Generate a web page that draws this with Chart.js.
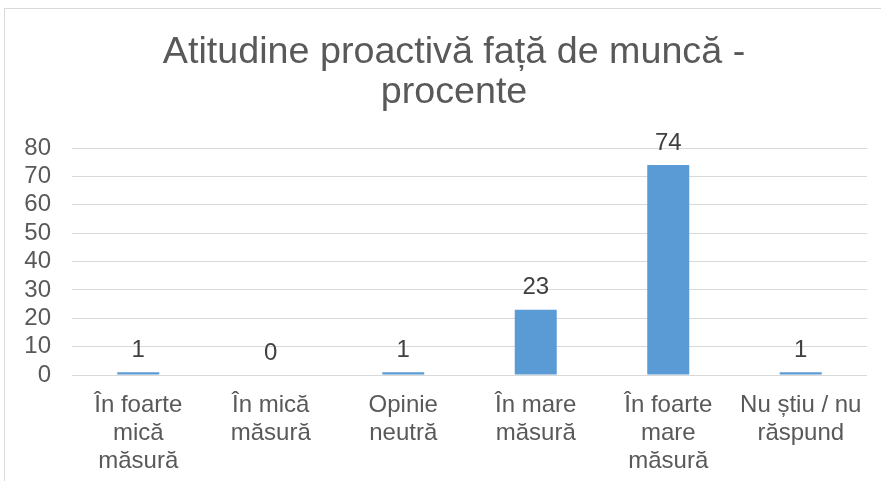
<!DOCTYPE html>
<html>
<head>
<meta charset="utf-8">
<script src="https://cdn.jsdelivr.net/npm/chart.js@4/dist/chart.umd.min.js"></script>
<style>
  html, body { margin: 0; padding: 0; background: #fff; }
  .wrap { position: relative; width: 881px; height: 481px; overflow: hidden; }
  .frame {
    position: absolute; left: 4px; top: 8px; right: -10px; bottom: -10px;
    border: 1px solid #d9d9d9;
  }
  canvas { position: absolute; left: 0; top: 0; }
</style>
</head>
<body>
<div class="wrap">
  <div class="frame"></div>
  <canvas id="proactiveChart" width="881" height="481"></canvas>
</div>
<script>
/* categories (multi-line labels) and percentages */
const categories = [
  ['În foarte', 'mică', 'măsură'],
  ['În mică', 'măsură'],
  ['Opinie', 'neutră'],
  ['În mare', 'măsură'],
  ['În foarte', 'mare', 'măsură'],
  ['Nu știu / nu', 'răspund']
];
const percentages = [1, 0, 1, 23, 74, 1];
const yTicks = [0, 10, 20, 30, 40, 50, 60, 70, 80];

const FONT = "'Liberation Sans', Arial, sans-serif";

// widest y label, so mirrored ticks can be right-aligned left of the plot
const mctx = document.createElement('canvas').getContext('2d');
mctx.font = '24px ' + FONT;
const yLabelWidth = Math.max(...yTicks.map(v => mctx.measureText(String(v)).width));

// value labels above each bar
const valueLabels = {
  id: 'valueLabels',
  afterDatasetsDraw(chart) {
    const ctx = chart.ctx;
    const meta = chart.getDatasetMeta(0);
    ctx.save();
    ctx.font = '24px ' + FONT;
    ctx.fillStyle = '#404040';
    ctx.textAlign = 'center';
    ctx.textBaseline = 'alphabetic';
    meta.data.forEach((bar, i) => {
      ctx.fillText(String(percentages[i]), bar.x, bar.y - 15.5);
    });
    ctx.restore();
  }
};

new Chart(document.getElementById('proactiveChart'), {
  type: 'bar',
  data: {
    labels: categories,
    datasets: [{
      data: percentages,
      backgroundColor: '#5b9bd5',
      barPercentage: 0.317,
      categoryPercentage: 1
    }]
  },
  options: {
    responsive: false,
    animation: false,
    layout: { padding: { left: 41, right: 14, top: 0, bottom: 0 } },
    plugins: {
      legend: { display: false },
      tooltip: { enabled: false },
      title: {
        display: true,
        text: ['Atitudine proactivă față de muncă -', 'procente'],
        color: '#595959',
        font: { family: FONT, size: 37.7, weight: 'normal', lineHeight: 40 / 37.7 },
        padding: { top: 33, bottom: 35 }
      }
    },
    scales: {
      x: {
        grid: { display: false },
        border: { display: false },
        afterFit(scale) { scale.height = 106; },
        ticks: {
          color: '#595959',
          font: { family: FONT, size: 24, lineHeight: 28 / 24 },
          padding: 8,
          maxRotation: 0,
          autoSkip: false
        }
      },
      y: {
        min: 0,
        max: 80,
        afterBuildTicks(scale) { scale.ticks = yTicks.map(v => ({ value: v })); },
        afterFit(scale) { scale.width = 31; },
        grid: { color: '#d9d9d9', lineWidth: 1, drawTicks: false },
        border: { display: false },
        ticks: {
          color: '#595959',
          font: { family: FONT, size: 24 },
          mirror: true,
          crossAlign: 'far',
          padding: -(21 + yLabelWidth),
          autoSkip: false
        }
      }
    }
  },
  plugins: [valueLabels]
});
</script>
</body>
</html>
